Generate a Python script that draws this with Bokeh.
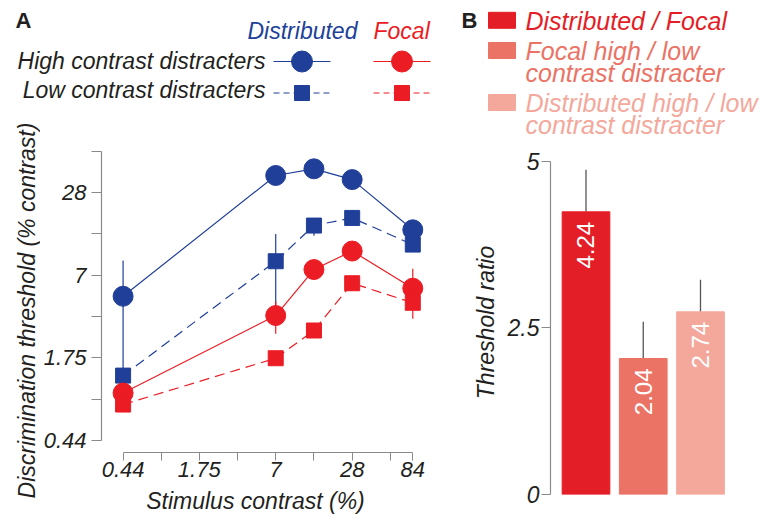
from math import pi
from bokeh.plotting import figure
from bokeh.layouts import row, column
from bokeh.models import Range1d, FixedTicker, CustomJSTickFormatter
from bokeh.core.properties import value
from bokeh.embed import file_html
from bokeh.resources import INLINE

FONT = "Liberation Sans"
BLUE = "#203f98"
RED = "#ec1c24"
AXIS = "#8a8a8a"
TXT = "#231f20"

# ---------------- Panel A data ----------------
contrast = [0.44, 7, 14, 28, 84]
dist_high = [4.92, 37.3, 41.7, 34.8, 15.0]
dist_low = [1.30, 8.85, 16.1, 18.3, 11.7]
focal_high = [0.97, 3.56, 7.70, 10.5, 5.63]
focal_low = [0.80, 1.74, 2.77, 6.12, 4.41]

# error bars (lower, upper); None = not drawn
dist_high_err = [(1.30, 8.96), None, None, None, None]
dist_low_err = [None, (3.56, 14.0), (13.6, 18.0), None, None]
focal_high_err = [None, (2.62, 4.5), None, None, (3.37, 7.8)]
focal_low_err = [None, None, None, None, None]

x_ticks = [0.44, 1.75, 7, 28, 84]
x_minor = [0.875, 3.5, 14, 56]
y_ticks = [0.44, 1.75, 7, 28]
y_minor = [0.875, 3.5, 14, 56]

# ---------------- Panel B data ----------------
ratio_names = ["Distributed / Focal",
               "Focal high / low contrast distracter",
               "Distributed high / low contrast distracter"]
ratio_lines = [["Distributed / Focal"],
               ["Focal high / low", "contrast distracter"],
               ["Distributed high / low", "contrast distracter"]]
ratio = [4.24, 2.04, 2.74]
ratio_upper = [4.87, 2.59, 3.22]
bar_colors = ["#e41e26", "#eb7365", "#f4a89c"]
b_ticks = [0, 2.5, 5]

fmt = CustomJSTickFormatter(code="return String(tick)")


def fig(**kw):
    p = figure(toolbar_location=None, output_backend="svg", frame_align=False, **kw)
    p.outline_line_color = None
    p.background_fill_color = "white"
    p.border_fill_color = "white"
    p.grid.visible = False
    return p


def pixfig(x0, x1, y0, y1):
    """Figure whose frame fills the canvas; coordinates are page pixels."""
    return fig(width=x1 - x0, height=y1 - y0, x_range=Range1d(x0, x1), y_range=Range1d(y1, y0),
               x_axis_location=None, y_axis_location=None, min_border=0)


def txt(p, x, y, s, size, color=TXT, style="italic", align="left", angle=0.0):
    p.text(x=[x], y=[y], text=[s], text_font=value(FONT), text_font_size=size,
           text_font_style=style, text_color=color, text_align=align,
           text_baseline="middle", angle=angle)


# ---------------- Legend A ----------------
legA = pixfig(0, 460, 0, 110)
txt(legA, 15, 19.5, "A", "22px", style="bold")
txt(legA, 247, 30, "Distributed", "23px", color=BLUE)
txt(legA, 373, 30, "Focal", "23px", color=RED)
txt(legA, 265, 60, "High contrast distracters", "23px", align="right")
txt(legA, 265, 89.5, "Low contrast distracters", "23px", align="right")
for cx, col in [(301.5, BLUE), (401.5, RED)]:
    legA.segment(x0=[cx - 28.5], y0=[61], x1=[cx + 28.5], y1=[61], line_color=col, line_width=1.2)
    legA.scatter(x=[cx], y=[61], marker="circle", size=21, color=col)
    legA.segment(x0=[cx - 28.5], y0=[92.5], x1=[cx + 28.5], y1=[92.5], line_color=col,
                 line_width=1.2, line_dash="6 4")
    legA.scatter(x=[cx], y=[92.5], marker="square", size=15, color=col)

# ---------------- Y title A ----------------
ytA = pixfig(0, 40, 110, 517)
txt(ytA, 26, 310, "Discrimination threshold (% contrast)", "23px", align="center", angle=pi / 2)

# ---------------- Plot A ----------------
pA = fig(width=420, height=376, x_axis_type="log", y_axis_type="log",
         x_range=Range1d(0.2975, 199.5), y_range=Range1d(0.358, 110.9),
         min_border_left=61, min_border_right=0, min_border_top=0, min_border_bottom=34)

series = [
    (dist_high, dist_high_err, BLUE, "circle", 20, "solid"),
    (dist_low, dist_low_err, BLUE, "square", 15, "10 6"),
    (focal_high, focal_high_err, RED, "circle", 20, "solid"),
    (focal_low, focal_low_err, RED, "square", 15, "10 6"),
]
for vals, err, col, mk, sz, dash in series:
    xs = [c for c, e in zip(contrast, err) if e is not None]
    lo = [e[0] for e in err if e is not None]
    hi = [e[1] for e in err if e is not None]
    if xs:
        pA.segment(x0=xs, y0=lo, x1=xs, y1=hi, line_color=col, line_width=1.2)
for vals, err, col, mk, sz, dash in series:
    pA.line(contrast, vals, line_color=col, line_width=1.2, line_dash=dash)
    pA.scatter(contrast, vals, marker=mk, size=sz, color=col)

pA.xaxis.ticker = FixedTicker(ticks=x_ticks, minor_ticks=x_minor)
pA.yaxis.ticker = FixedTicker(ticks=y_ticks, minor_ticks=y_minor)
pA.xaxis.bounds = (min(x_ticks), max(x_ticks))
pA.yaxis.bounds = (min(y_ticks), max(y_minor))
for ax in pA.axis:
    ax.formatter = fmt
    ax.axis_line_color = AXIS
    ax.axis_line_width = 1.2
    ax.major_tick_line_color = AXIS
    ax.minor_tick_line_color = AXIS
    ax.major_tick_in = 0
    ax.minor_tick_in = 0
    ax.major_label_text_font = FONT
    ax.major_label_text_font_style = "italic"
    ax.major_label_text_font_size = "22px"
    ax.major_label_text_color = TXT
pA.yaxis.major_tick_out = 10
pA.yaxis.minor_tick_out = 10
pA.yaxis.major_label_standoff = 5
pA.xaxis.major_tick_out = 8
pA.xaxis.minor_tick_out = 8
pA.xaxis.major_label_standoff = 1

# ---------------- X title A ----------------
xtA = pixfig(40, 460, 486, 517)
txt(xtA, 255, 500, "Stimulus contrast (%)", "23px", align="center")

# ---------------- Legend B ----------------
legB = pixfig(460, 770, 0, 150)
txt(legB, 461, 19.5, "B", "22px", style="bold")
sw_y = [19.8, 50, 102]
mid_y = [[20], [50, 72.5], [102, 124]]
legB.rect(x=[501.5] * 3, y=sw_y, width=27, height=16, color=bar_colors)
for lines, ys, col in zip(ratio_lines, mid_y, bar_colors):
    for s, yb in zip(lines, ys):
        txt(legB, 525, yb, s, "25px", color=col)

# ---------------- Plot B ----------------
idx = list(range(1, len(ratio) + 1))
pB = fig(width=310, height=367, x_range=Range1d(0.380, 4.223), y_range=Range1d(0, 5.16),
         x_axis_location=None, min_border_left=90, min_border_right=0,
         min_border_top=0, min_border_bottom=23)
pB.segment(x0=idx, y0=ratio, x1=idx, y1=ratio_upper, line_color="#555555", line_width=1.3)
pB.vbar(x=idx, top=ratio, width=0.833, color=bar_colors)
pB.text(x=idx, y=ratio, text=[f"{v:.2f}" for v in ratio], angle=pi / 2, text_align="right",
        text_baseline="middle", y_offset=10, text_color="white", text_font=value(FONT),
        text_font_size="24px")
ya = pB.yaxis[0]
ya.ticker = FixedTicker(ticks=b_ticks)
ya.formatter = fmt
ya.bounds = (min(b_ticks), max(b_ticks))
ya.axis_line_color = AXIS
ya.axis_line_width = 1.2
ya.major_tick_line_color = AXIS
ya.major_tick_in = 0
ya.major_tick_out = 9
ya.minor_tick_line_color = None
ya.major_label_standoff = 2
ya.major_label_text_font = FONT
ya.major_label_text_font_style = "italic"
ya.major_label_text_font_size = "23px"
ya.major_label_text_color = TXT
ya.axis_label = "Threshold ratio"
ya.axis_label_text_font = FONT
ya.axis_label_text_font_style = "italic"
ya.axis_label_text_font_size = "23px"
ya.axis_label_text_color = TXT
ya.axis_label_standoff = 6

left = column(legA, row(ytA, column(pA, xtA)))
right = column(legB, pB)
layout = row(left, right)
open("out.html", "w").write(file_html(layout, INLINE))
